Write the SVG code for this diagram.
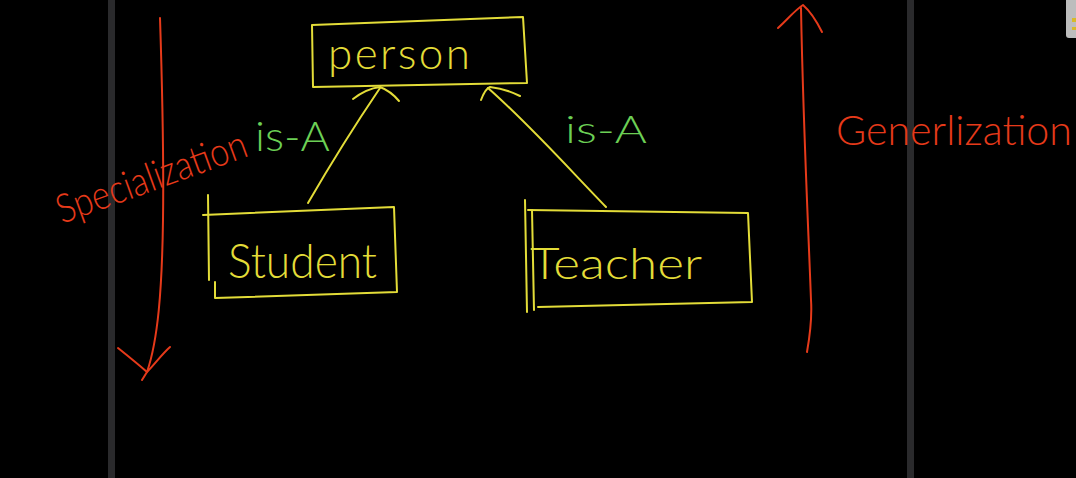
<svg xmlns="http://www.w3.org/2000/svg" width="1076" height="478" viewBox="0 0 1076 478">
<style>
.bg{fill:#000}
.bar{fill:#2a2a2c}
.y{fill:none;stroke:#e3dc38;stroke-width:2;stroke-linecap:round;stroke-linejoin:round}
.r{fill:none;stroke:#e63a1a;stroke-width:2;stroke-linecap:round;stroke-linejoin:round}
.ty{fill:#e3dc38;font-family:Lato,"Liberation Sans",sans-serif;font-weight:300}
.tg{fill:#6ccf55;font-family:Lato,"Liberation Sans",sans-serif;font-weight:300}
.tr{fill:#e63a1a;font-family:Lato,"Liberation Sans",sans-serif;font-weight:300}
</style>
<rect class="bg" x="0" y="0" width="1076" height="478"/>
<rect class="bar" x="108" y="0" width="7" height="478"/>
<rect class="bar" x="907" y="0" width="7" height="478"/>
<g id="ui-icon">
<rect x="1066" y="-4" width="14" height="42" rx="3" fill="#bdbdbd"/>
<rect x="1072" y="18" width="4" height="4" fill="#d8b92a"/>
<rect x="1072" y="27" width="4" height="3" fill="#d8b92a"/>
</g>
<g id="connectors">
<path class="y" d="M308,203 C330,165 355,125 380,88"/>
<path class="y" d="M353,99 C362,92 372,88 380,87 C388,90 394,95 399,101"/>
<path class="y" d="M606,207 C570,170 530,125 488,88"/>
<path class="y" d="M481,100 C484,92 487,88 490,87 C500,88 510,91 520,96"/>
<path class="r" d="M160,18 C162,80 164,150 163,220 C162,290 158,340 147,372 L142,380"/>
<path class="r" d="M118,348 C128,356 138,364 147,372 C155,364 162,354 170,347"/>
<path class="r" d="M807,352 C810,335 812,315 811,300 C808,220 803,120 801,8"/>
<path class="r" d="M778,28 C787,20 795,10 803,5 C811,12 817,22 822,32"/>
</g>
<g id="person">
<path class="y" d="M312,25 L523,17 L527,83 L313,87 Z"/>
<text class="ty" x="328" y="69" font-size="44" textLength="142" lengthAdjust="spacing">person</text>
</g>
<g id="student">
<path class="y" d="M203,215 L394,207 L397,292 L215,298 L215,282"/>
<path class="y" d="M208,195 L209,280"/>
<text class="ty" x="228" y="278" font-size="48" textLength="149" lengthAdjust="spacingAndGlyphs">Student</text>
</g>
<g id="teacher">
<path class="y" d="M528,210 L748,213 L752,302 L538,307"/>
<path class="y" d="M525,200 L527,312"/>
<path class="y" d="M532,210 L534,310"/>
<text class="ty" x="530" y="279" font-size="44" textLength="172" lengthAdjust="spacingAndGlyphs">Teacher</text>
</g>
<g id="labels">
<text class="tg" x="255" y="151" font-size="42" textLength="75" lengthAdjust="spacingAndGlyphs">is-A</text>
<text class="tg" x="565" y="143" font-size="38" textLength="82" lengthAdjust="spacingAndGlyphs">is-A</text>
<text class="tr" x="62" y="224" font-size="40" transform="rotate(-20 62 224)" textLength="200" lengthAdjust="spacingAndGlyphs">Specialization</text>
<text class="tr" x="836" y="145" font-size="42" textLength="236" lengthAdjust="spacingAndGlyphs">Generlization</text>
</g>
</svg>
